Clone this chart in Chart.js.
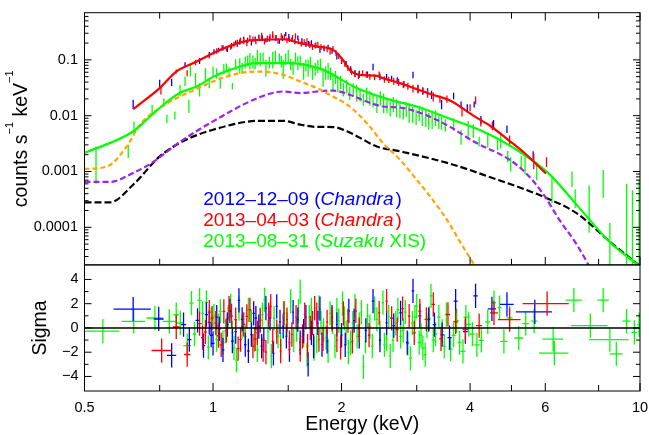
<!DOCTYPE html>
<html>
<head>
<meta charset="utf-8">
<script src="https://cdn.jsdelivr.net/npm/chart.js@4.4.1/dist/chart.umd.min.js"></script>
<style>
  html, body { margin: 0; padding: 0; background: #fff; }
  #spec { display: block; }
</style>
</head>
<body>
<canvas id="spec" width="649" height="435"></canvas>
<script>
const FONT = '"Liberation Sans", Arial, Helvetica, sans-serif';

// axis ticks
const xMajor = [0.5, 1, 2, 4, 6, 10];
const xLabels = ['0.5', '1', '2', '4', '6', '10'];
const xMinor = [0.75, 1.5, 3, 5, 8];
const rateTicks = [1e-4, 1e-3, 0.01, 0.1];
const rateLabels = ['0.0001', '0.001', '0.01', '0.1'];
const sigmaTicks = [-4, -2, 0, 2, 4];
const sigmaLabels = ['−4', '−2', '0', '2', '4'];
const sigmaMinor = [-3, -1, 1, 3];

// 2012-12-09 Chandra spectrum (keV, counts/s/keV, error)
const blueE = [0.65, 0.75, 0.80, 0.86, 0.93, 0.98, 1.03, 1.08, 1.13, 1.18, 1.23, 1.28, 1.33, 1.38, 1.43, 1.48, 1.53, 1.58, 1.65, 1.70,
  1.78, 1.86, 1.95, 2.05, 2.15, 2.37, 2.55, 2.70, 2.94, 3.10, 3.25, 3.43, 3.66, 3.81, 3.94, 4.09, 4.24, 4.54, 4.88, 5.62,
  1.005, 1.055, 1.105, 1.155, 1.205, 1.255, 1.305, 1.355, 1.405, 1.455, 1.505, 1.555, 1.615, 1.675, 1.74, 1.82, 1.90, 2.0, 2.10, 2.20,
  2.30, 2.46, 2.62, 2.80, 3.02, 3.18];
const blueRate = [0.0163, 0.038, 0.040, 0.083, 0.096, 0.125, 0.150, 0.155, 0.205, 0.240, 0.200, 0.260, 0.225, 0.265, 0.215, 0.290, 0.230, 0.250, 0.190, 0.205,
  0.150, 0.171, 0.115, 0.085, 0.058, 0.075, 0.050, 0.043, 0.054, 0.028, 0.024, 0.016, 0.0227, 0.0157, 0.0141, 0.016, 0.0085, 0.0072, 0.0058, 0.0019,
  0.14, 0.165, 0.18, 0.21, 0.225, 0.235, 0.245, 0.24, 0.25, 0.245, 0.26, 0.215, 0.22, 0.195, 0.185, 0.16, 0.145, 0.095, 0.068, 0.056,
  0.055, 0.05, 0.046, 0.037, 0.031, 0.027];
const blueErr = [0.003, 0.006, 0.006, 0.008, 0.012, 0.013, 0.015, 0.016, 0.018, 0.02, 0.02, 0.022, 0.02, 0.022, 0.02, 0.025, 0.022, 0.022, 0.02, 0.02,
  0.016, 0.016, 0.013, 0.01, 0.008, 0.01, 0.006, 0.006, 0.007, 0.004, 0.004, 0.003, 0.003, 0.0022, 0.002, 0.002, 0.0014, 0.0012, 0.0009, 0.0004,
  0.015, 0.018, 0.02, 0.024, 0.025, 0.026, 0.028, 0.027, 0.028, 0.028, 0.03, 0.025, 0.025, 0.022, 0.02, 0.018, 0.016, 0.011, 0.009, 0.008,
  0.007, 0.007, 0.006, 0.005, 0.005, 0.004];

// 2013-04-03 Chandra spectrum
const redE = [0.755, 0.82, 0.87, 0.91, 0.98, 1.05, 1.10, 1.14, 1.18, 1.22, 1.26, 1.30, 1.34, 1.38, 1.42, 1.47, 1.51, 1.56, 1.61, 1.66,
  1.71, 1.76, 1.82, 1.88, 1.94, 2.00, 2.07, 2.15, 2.24, 2.33, 2.45, 2.58, 2.72, 2.86, 3.02, 3.18, 3.40, 3.53, 3.83, 4.00,
  4.12, 4.24, 4.51, 4.95, 5.64, 6.04,
  1.02, 1.075, 1.12, 1.16, 1.20, 1.24, 1.28, 1.32, 1.36, 1.40, 1.445, 1.49, 1.535, 1.585, 1.635, 1.685, 1.735, 1.79, 1.85, 1.91,
  1.97, 2.035, 2.11, 2.19, 2.285, 2.39, 2.52, 2.65, 2.79, 2.94, 3.1, 3.28];
const redRate = [0.028, 0.062, 0.058, 0.090, 0.118, 0.165, 0.170, 0.200, 0.215, 0.250, 0.215, 0.270, 0.240, 0.290, 0.220, 0.260, 0.235, 0.270, 0.195, 0.220,
  0.170, 0.190, 0.165, 0.140, 0.135, 0.100, 0.072, 0.056, 0.058, 0.050, 0.055, 0.044, 0.040, 0.034, 0.030, 0.025, 0.020, 0.020, 0.0117, 0.014,
  0.019, 0.0078, 0.0067, 0.0037, 0.0016, 0.0015,
  0.145, 0.16, 0.19, 0.225, 0.20, 0.235, 0.25, 0.215, 0.26, 0.245, 0.27, 0.225, 0.25, 0.215, 0.21, 0.185, 0.18, 0.17, 0.155, 0.16,
  0.118, 0.085, 0.062, 0.052, 0.055, 0.049, 0.045, 0.042, 0.036, 0.031, 0.028, 0.022];
const redErr = [0.004, 0.005, 0.007, 0.010, 0.012, 0.020, 0.018, 0.030, 0.025, 0.030, 0.025, 0.035, 0.030, 0.035, 0.025, 0.030, 0.025, 0.030, 0.022, 0.025,
  0.020, 0.022, 0.018, 0.016, 0.016, 0.012, 0.009, 0.007, 0.007, 0.006, 0.007, 0.006, 0.006, 0.005, 0.005, 0.004, 0.003, 0.003, 0.002, 0.002,
  0.003, 0.0014, 0.0012, 0.0007, 0.0005, 0.0003,
  0.016, 0.018, 0.022, 0.026, 0.024, 0.028, 0.03, 0.026, 0.03, 0.028, 0.03, 0.026, 0.028, 0.024, 0.024, 0.022, 0.02, 0.02, 0.018, 0.018,
  0.014, 0.01, 0.008, 0.007, 0.007, 0.006, 0.006, 0.006, 0.005, 0.005, 0.004, 0.004];

// 2013-08-31 Suzaku XIS spectrum
const greenE = [0.532, 0.633, 0.653, 0.72, 0.767, 0.78, 0.814, 0.837, 0.86, 0.878, 0.885, 0.91, 0.93, 0.96, 0.98, 1.0, 1.04, 1.075, 1.11, 1.155,
  1.19, 1.22, 1.24, 1.27, 1.29, 1.33, 1.38, 1.43, 1.46, 1.50, 1.54, 1.58, 1.63, 1.67, 1.71, 1.76, 1.81, 1.86, 1.91, 1.96,
  2.02, 2.09, 2.17, 2.25, 2.33, 2.42, 2.51, 2.60, 2.69, 2.79, 2.88, 2.99, 3.09, 3.20, 3.32, 3.43, 3.50, 3.66, 3.81, 3.96,
  4.07, 4.20, 4.40, 4.64, 4.72, 4.90, 4.98, 5.27, 5.38, 5.73, 6.22, 6.93, 7.05, 7.6, 8.2, 8.5, 9.3, 9.6, 9.95,
  1.02, 1.06, 1.09, 1.13, 1.17, 1.205, 1.255, 1.31, 1.355, 1.40, 1.445, 1.48, 1.52, 1.56, 1.60, 1.65, 1.69, 1.735, 1.785, 1.835,
  1.885, 1.935, 1.99, 2.055, 2.13, 2.21, 2.29, 2.37, 2.465, 2.555, 2.645, 2.74, 2.835, 2.935, 3.04, 3.15, 3.26, 3.38];
const greenRate = [0.0017, 0.00237, 0.0062, 0.013, 0.0176, 0.0089, 0.0102, 0.029, 0.042, 0.0152, 0.066, 0.045, 0.030, 0.056, 0.039, 0.063, 0.040, 0.074, 0.034, 0.082,
  0.093, 0.10, 0.095, 0.115, 0.105, 0.075, 0.105, 0.108, 0.073, 0.12, 0.074, 0.09, 0.066, 0.075, 0.06, 0.079, 0.052, 0.066, 0.043, 0.038,
  0.03, 0.026, 0.027, 0.02, 0.0215, 0.0166, 0.018, 0.0138, 0.0145, 0.0115, 0.012, 0.0098, 0.0105, 0.0084, 0.0095, 0.0076, 0.0069, 0.0072, 0.0043, 0.0061,
  0.0055, 0.0035, 0.0038, 0.0032, 0.0036, 0.0019, 0.0014, 0.0015, 0.0014, 0.0011, 0.00055, 0.00076, 0.00035, 0.00032, 0.0007, 0.00007, 0.0003, 0.00023, 0.00036,
  0.058, 0.070, 0.062, 0.085, 0.072, 0.098, 0.088, 0.11, 0.092, 0.118, 0.095, 0.105, 0.085, 0.11, 0.098, 0.082, 0.092, 0.07, 0.085, 0.06,
  0.058, 0.05, 0.041, 0.034, 0.03, 0.024, 0.025, 0.019, 0.021, 0.016, 0.0165, 0.013, 0.0135, 0.011, 0.0115, 0.0092, 0.0088, 0.0082];
const greenErr = [0.0011, 0.00063, 0.0017, 0.0027, 0.003, 0.0015, 0.0017, 0.007, 0.0085, 0.004, 0.0155, 0.013, 0.008, 0.015, 0.008, 0.013, 0.0095, 0.0125, 0.0045, 0.025,
  0.022, 0.033, 0.025, 0.035, 0.028, 0.025, 0.035, 0.022, 0.027, 0.032, 0.02, 0.025, 0.022, 0.025, 0.016, 0.021, 0.019, 0.022, 0.0145, 0.012,
  0.008, 0.007, 0.009, 0.005, 0.0065, 0.0054, 0.007, 0.0041, 0.005, 0.003, 0.0046, 0.003, 0.004, 0.0028, 0.003, 0.002, 0.0017, 0.0018, 0.0013, 0.0019,
  0.0015, 0.0007, 0.0011, 0.0008, 0.001, 0.00045, 0.0004, 0.0004, 0.0005, 0.0004, 0.00028, 0.00024, 0.00013, 0.00024, 0.00036, 0.00005, 0.0003, 0.00023, 0.00036,
  0.012, 0.014, 0.012, 0.018, 0.016, 0.022, 0.02, 0.025, 0.022, 0.028, 0.022, 0.025, 0.02, 0.025, 0.022, 0.02, 0.022, 0.018, 0.02, 0.016,
  0.015, 0.013, 0.011, 0.009, 0.008, 0.006, 0.007, 0.005, 0.006, 0.005, 0.005, 0.004, 0.004, 0.0035, 0.0035, 0.003, 0.003, 0.0025];

// model curves
const redModelE = [0.65, 0.75, 0.82, 0.916, 1.0, 1.096, 1.2, 1.29, 1.46, 1.6, 1.75, 1.91, 2.015, 2.09, 2.21, 2.42, 2.5, 2.74, 3.0, 3.27, 3.59, 4.09, 4.48, 4.91, 5.38, 6.02];
const redModel = [0.0131, 0.0312, 0.0618, 0.0933, 0.132, 0.178, 0.219, 0.228, 0.234, 0.199, 0.173, 0.151, 0.1, 0.066, 0.054, 0.0518, 0.0471, 0.0383, 0.0299, 0.0237, 0.0187, 0.0098, 0.0064, 0.0037, 0.0021, 0.00092];
const greenModelE = [0.5, 0.65, 0.699, 0.765, 0.837, 0.916, 1.0, 1.096, 1.265, 1.514, 1.81, 2.17, 2.6, 3.0, 3.59, 4.29, 5.14, 6.15, 7.1, 8.53, 9.9];
const greenModel = [0.00214, 0.0052, 0.00845, 0.0157, 0.0257, 0.0333, 0.0496, 0.0662, 0.0873, 0.0873, 0.0662, 0.0312, 0.0192, 0.0146, 0.0088, 0.0052, 0.00245, 0.00088, 0.000255, 0.000053, 0.000021];
const blackE = [0.5, 0.574, 0.65, 0.75, 0.837, 1.0, 1.29, 1.46, 1.6, 1.75, 1.91, 2.09, 2.21, 2.42, 2.74, 3.59, 4.48, 5.9, 7.1, 8.53, 9.9];
const blackModel = [0.00028, 0.00028, 0.00058, 0.00186, 0.00327, 0.0056, 0.0081, 0.0081, 0.0069, 0.0063, 0.00625, 0.005, 0.004, 0.0028, 0.0023, 0.00138, 0.00078, 0.00036, 0.000179, 0.000054, 0.0000215];
const orangeE = [0.5, 0.565, 0.628, 0.674, 0.75, 0.837, 0.916, 1.0, 1.156, 1.29, 1.46, 1.6, 1.75, 1.91, 2.09, 2.29, 2.5, 2.74, 3.0, 3.27, 3.59, 3.73, 4.13];
const orangeModel = [0.00111, 0.00123, 0.00281, 0.0069, 0.0137, 0.022, 0.030, 0.041, 0.0578, 0.0618, 0.054, 0.041, 0.0312, 0.022, 0.0146, 0.0074, 0.00324, 0.00163, 0.00071, 0.00031, 0.000112, 0.000067, 0.000019];
const purpleE = [0.5, 0.574, 0.65, 0.711, 0.75, 0.837, 1.0, 1.29, 1.46, 1.6, 1.75, 1.91, 2.09, 2.29, 2.5, 2.74, 2.99, 3.27, 3.59, 4.09, 4.91, 5.38, 5.9, 6.48, 7.1, 7.64];
const purpleModel = [0.00065, 0.00065, 0.00094, 0.00135, 0.0018, 0.0034, 0.0079, 0.0216, 0.0271, 0.0254, 0.0271, 0.0282, 0.0237, 0.0179, 0.0146, 0.014, 0.0119, 0.0091, 0.0063, 0.00341, 0.00169, 0.00097, 0.00042, 0.000135, 0.00005, 0.000019];

// residuals (keV, bin half width, sigma)
const blueResE = [0.65, 0.746, 0.80, 0.853, 0.88, 0.92, 0.95, 0.98, 1.0, 1.035, 1.08, 1.11, 1.15, 1.19, 1.23, 1.26, 1.30, 1.33, 1.41, 1.46,
  1.51, 1.58, 1.63, 1.67, 1.72, 1.76, 1.80, 1.90, 2.00, 2.08, 2.20, 2.37, 2.55, 2.75, 2.94, 3.20, 3.30, 3.44, 3.70, 3.90,
  4.12, 4.50, 4.88, 5.67,
  0.965, 0.99, 1.02, 1.055, 1.095, 1.13, 1.17, 1.21, 1.245, 1.28, 1.315, 1.36, 1.385, 1.435, 1.485, 1.54, 1.60, 1.65, 1.70, 1.78,
  1.85, 1.95, 2.04, 2.14, 2.28, 2.46, 2.65, 2.85, 3.05, 3.58];
const blueResW = [0.065, 0.02, 0.02, 0.012, 0.01, 0.01, 0.008, 0.008, 0.008, 0.008, 0.008, 0.008, 0.008, 0.008, 0.008, 0.008, 0.008, 0.008, 0.008, 0.008,
  0.008, 0.008, 0.008, 0.008, 0.008, 0.008, 0.008, 0.01, 0.01, 0.012, 0.012, 0.015, 0.015, 0.02, 0.02, 0.025, 0.03, 0.03, 0.04, 0.05,
  0.05, 0.1, 0.18, 0.55,
  0.008, 0.008, 0.008, 0.008, 0.008, 0.008, 0.008, 0.008, 0.008, 0.008, 0.008, 0.008, 0.008, 0.008, 0.008, 0.008, 0.008, 0.008, 0.008, 0.008,
  0.01, 0.01, 0.012, 0.012, 0.015, 0.015, 0.02, 0.02, 0.025, 0.04];
const blueSig = [1.56, 0.74, -2.27, 0.27, -0.96, 0.63, -1.45, 0.46, -1.28, -0.08, 0.27, -1.09, 2.27, -1.37, -0.55, 0.82, -1.5, 1.64, 1.78, 0.14,
  -1.78, 0.68, -0.27, -3.0, -1.5, 0.41, -1.37, 0.9, -0.6, 1.4, -0.69, 2.22, 0.42, 1.25, 3.06, 0.69, 0.28, -0.56, 2.22, -0.3,
  2.64, 1.58, 1.94, 1.33,
  1.1, -0.6, 0.9, -1.8, 1.4, -0.3, 0.7, -1.9, 1.2, 0.1, -1.0, 0.8, -2.1, 0.5, -0.7, 1.3, -1.2, 0.9, -0.4, 1.6,
  -1.1, 0.3, -1.4, 0.6, -0.2, -1.0, 0.2, -1.2, 1.0, -0.8];

const redResE = [0.758, 0.82, 0.87, 0.93, 0.96, 0.995, 1.03, 1.06, 1.09, 1.13, 1.16, 1.20, 1.24, 1.27, 1.31, 1.35, 1.38, 1.44, 1.49, 1.53,
  1.60, 1.64, 1.69, 1.73, 1.77, 1.85, 1.95, 2.02, 2.12, 2.20, 2.45, 2.55, 2.70, 2.88, 3.05, 3.28, 3.55, 3.90, 4.20, 4.55,
  4.95, 6.06,
  0.945, 0.98, 1.015, 1.045, 1.075, 1.105, 1.145, 1.18, 1.22, 1.255, 1.29, 1.33, 1.365, 1.41, 1.465, 1.51, 1.565, 1.62, 1.665, 1.71,
  1.75, 1.81, 1.90, 1.99, 2.07, 2.16, 2.32, 2.62, 2.78, 2.96, 3.16, 3.42, 3.70];
const redResW = [0.04, 0.015, 0.015, 0.01, 0.008, 0.008, 0.008, 0.008, 0.008, 0.008, 0.008, 0.008, 0.008, 0.008, 0.008, 0.008, 0.008, 0.008, 0.008, 0.008,
  0.008, 0.008, 0.008, 0.008, 0.008, 0.01, 0.01, 0.01, 0.012, 0.012, 0.015, 0.015, 0.02, 0.02, 0.025, 0.03, 0.04, 0.06, 0.07, 0.1,
  0.3, 0.75,
  0.008, 0.008, 0.008, 0.008, 0.008, 0.008, 0.008, 0.008, 0.008, 0.008, 0.008, 0.008, 0.008, 0.008, 0.008, 0.008, 0.008, 0.008, 0.008, 0.008,
  0.008, 0.01, 0.01, 0.01, 0.012, 0.012, 0.015, 0.02, 0.02, 0.025, 0.03, 0.035, 0.05];
const redSig = [-1.86, 0.08, -2.19, 0.36, -0.33, 0.82, -0.63, 1.37, 1.64, 0.68, -0.96, 0.96, -1.5, -0.41, -1.78, 1.09, -1.09, -1.91, 0.68, -0.55,
  -1.78, 1.09, 0.0, 1.64, -0.96, 0.5, -1.0, 1.2, -1.11, -0.14, 1.25, 2.22, -0.14, 0.97, 1.39, 1.94, 1.11, -0.14, 0.19, 1.25,
  0.69, 2.0,
  -0.8, 1.3, 0.4, -1.4, -0.2, 1.0, -1.7, 0.3, 1.5, -0.9, 0.6, -2.0, 1.8, -0.3, 1.2, -1.2, 0.9, -0.7, -1.5, 0.4,
  1.1, -0.9, 0.7, -1.6, 0.6, 1.4, -0.6, 0.8, 1.6, -0.4, 0.7, -0.9, 0.5];

const greenResE = [0.552, 0.652, 0.731, 0.79, 0.82, 0.838, 0.87, 0.89, 0.93, 0.965, 0.99, 1.02, 1.04, 1.07, 1.10, 1.12, 1.135, 1.17, 1.21, 1.25,
  1.29, 1.32, 1.37, 1.42, 1.47, 1.52, 1.57, 1.60, 1.66, 1.70, 1.75, 1.79, 1.84, 1.88, 1.93, 1.97, 2.01, 2.05, 2.10, 2.15,
  2.20, 2.25, 2.30, 2.36, 2.42, 2.50, 2.55, 2.60, 2.68, 2.75, 2.82, 2.90, 2.97, 3.04, 3.10, 3.17, 3.24, 3.32, 3.44, 3.52,
  3.60, 3.72, 3.85, 3.97, 4.15, 4.25, 4.40, 4.55, 4.69, 4.80, 4.95, 5.20, 5.40, 5.65, 6.30, 6.26, 7.00, 7.65, 8.20, 8.50,
  8.80, 9.30, 9.70, 9.95,
  0.905, 0.945, 0.975, 1.005, 1.03, 1.055, 1.085, 1.11, 1.15, 1.19, 1.23, 1.27, 1.305, 1.345, 1.39, 1.44, 1.49, 1.545, 1.585, 1.63,
  1.68, 1.725, 1.77, 1.815, 1.86, 1.905, 1.95, 1.99, 2.03, 2.075, 2.125, 2.175, 2.225, 2.275, 2.33, 2.39, 2.46, 2.52, 2.58, 2.64,
  2.71, 2.79, 2.86, 2.93, 3.00, 3.07, 3.14, 3.21, 3.28, 3.38, 3.48, 3.66, 3.78, 3.91, 4.05];
const greenResW = [0.052, 0.041, 0.032, 0.028, 0.012, 0.018, 0.018, 0.01, 0.01, 0.008, 0.008, 0.008, 0.008, 0.008, 0.008, 0.008, 0.008, 0.008, 0.008, 0.008,
  0.008, 0.008, 0.008, 0.008, 0.008, 0.008, 0.008, 0.008, 0.008, 0.008, 0.008, 0.008, 0.01, 0.01, 0.01, 0.01, 0.01, 0.01, 0.012, 0.012,
  0.012, 0.012, 0.012, 0.015, 0.015, 0.015, 0.015, 0.015, 0.02, 0.02, 0.02, 0.02, 0.02, 0.025, 0.025, 0.025, 0.025, 0.03, 0.03, 0.03,
  0.04, 0.04, 0.05, 0.05, 0.06, 0.06, 0.06, 0.05, 0.05, 0.1, 0.08, 0.12, 0.1, 0.1, 0.5, 0.35, 0.3, 0.75, 0.25, 0.9,
  0.3, 0.2, 0.15, 0.1,
  0.008, 0.008, 0.008, 0.008, 0.008, 0.008, 0.008, 0.008, 0.008, 0.008, 0.008, 0.008, 0.008, 0.008, 0.008, 0.008, 0.008, 0.008, 0.008, 0.008,
  0.008, 0.008, 0.008, 0.008, 0.01, 0.01, 0.01, 0.01, 0.01, 0.012, 0.012, 0.012, 0.012, 0.012, 0.015, 0.015, 0.015, 0.015, 0.015, 0.02,
  0.02, 0.02, 0.02, 0.02, 0.025, 0.025, 0.025, 0.025, 0.03, 0.03, 0.03, 0.04, 0.04, 0.05, 0.05];
const greenSig = [-0.27, 0.55, 0.82, 0.55, 1.09, 0.41, -1.45, 2.05, 2.27, 2.1, 0.68, -0.96, 1.37, -0.27, 1.83, -1.64, -2.65, 0.14, 1.5, -0.96,
  0.68, 2.32, -2.32, -0.68, 1.23, 2.19, -0.14, 3.0, -2.19, 1.5, -1.09, 0.41, -0.8, 1.2, -1.5, 0.6, 2.0, -0.4, -1.2, 1.8,
  0.3, -3.2, 1.0, -1.5, 0.7, 2.08, -0.9, -2.3, 0.4, -0.69, 1.3, -2.5, 0.9, -1.2, -1.67, 0.2, 2.64, -0.5, -0.28, 1.1,
  -1.75, 0.6, -1.94, 0.3, -1.39, -1.03, 0.5, 2.08, 1.67, -1.1, 0.83, -0.83, 0.36, 0.56, -2.08, -0.92, 2.3, 0.19, 2.3, -0.97,
  -2.14, 0.56, -0.36, 0.28,
  -0.5, 1.2, -1.6, 1.0, 0.2, -1.2, 0.9, -0.4, 1.6, -0.7, 0.5, -1.8, 1.1, -0.3, 0.8, -1.4, 0.3, -1.0, 1.4, -0.6,
  0.9, -1.7, 1.7, -0.2, -1.9, 0.5, 1.5, -1.0, 0.8, -2.0, 0.4, -0.7, 1.3, -1.1, 0.1, 1.6, -0.4, -1.4, 0.9, -1.0,
  1.5, -0.2, -1.3, 0.4, 1.8, -0.6, -2.2, 0.8, -1.0, 0.9, -1.5, -0.6, -1.2, 0.9, -0.5];

const legendLines = [
  ['#0000ff', [['2012–12–09 (', false], ['Chandra', true], [')', false]]],
  ['#ff0000', [['2013–04–03 (', false], ['Chandra', true], [')', false]]],
  ['#00ff00', [['2013–08–31 (', false], ['Suzaku', true], [' XIS)', false]]]
];

function errorBars(E, v, err) {
  const pts = [];
  E.forEach((e, i) => {
    pts.push({x: e, y: Math.max(v[i] - err[i], 1e-7)}, {x: e, y: v[i] + err[i]}, {x: NaN, y: NaN});
  });
  return pts;
}

function crosses(E, hw, sig) {
  const pts = [];
  E.forEach((e, i) => {
    pts.push({x: e, y: sig[i] - 1}, {x: e, y: sig[i] + 1}, {x: NaN, y: NaN},
      {x: e - hw[i], y: sig[i]}, {x: e + hw[i], y: sig[i]}, {x: NaN, y: NaN});
  });
  return pts;
}

const curve = (E, v) => E.map((e, i) => ({x: e, y: v[i]}));

const model = (E, v, color, dash) => ({
  data: curve(E, v), yAxisID: 'y', borderColor: color, borderWidth: 2.2,
  borderDash: dash, cubicInterpolationMode: 'monotone'
});
const bars = (data, color, axis) => ({data, yAxisID: axis, borderColor: color, borderWidth: 1.3});

// inward ticks, frames, labels and the legend text
const panels = {
  id: 'panels',
  beforeDatasetDraw(chart, args) {
    const s = chart.scales[args.meta.yAxisID], a = chart.chartArea, ctx = chart.ctx;
    ctx.save();
    ctx.beginPath();
    ctx.rect(a.left, s.top, a.right - a.left, s.bottom - s.top);
    ctx.clip();
  },
  afterDatasetDraw(chart) {
    chart.ctx.restore();
  },
  afterDraw(chart) {
    const {ctx, chartArea: a, scales: {x, y, ySig}} = chart;
    const line = (x0, y0, x1, y1) => { ctx.beginPath(); ctx.moveTo(x0, y0); ctx.lineTo(x1, y1); ctx.stroke(); };
    ctx.save();
    ctx.strokeStyle = '#000';
    ctx.fillStyle = '#000';
    ctx.lineWidth = 1;
    ctx.strokeRect(a.left, y.top, a.right - a.left, y.bottom - y.top);
    ctx.strokeRect(a.left, ySig.top, a.right - a.left, ySig.bottom - ySig.top);

    [[xMajor, 8], [xMinor, 6]].forEach(([vals, len]) => vals.forEach(v => {
      const px = x.getPixelForValue(v);
      line(px, y.top, px, y.top + len);
      line(px, y.bottom, px, y.bottom - len);
      line(px, ySig.bottom, px, ySig.bottom - len);
    }));

    for (let d = -5; d <= 0; d++) {
      for (let m = 1; m <= 9; m++) {
        const v = m * Math.pow(10, d);
        if (v < y.min || v > y.max) continue;
        const py = y.getPixelForValue(v), len = m === 1 ? 7 : 4;
        line(a.left, py, a.left + len, py);
        line(a.right, py, a.right - len, py);
      }
    }
    [[sigmaTicks, 7], [sigmaMinor, 4]].forEach(([vals, len]) => vals.forEach(v => {
      const py = ySig.getPixelForValue(v);
      line(a.left, py, a.left + len, py);
      line(a.right, py, a.right - len, py);
    }));

    ctx.font = '14.5px ' + FONT;
    ctx.textAlign = 'right';
    ctx.textBaseline = 'middle';
    rateTicks.forEach((v, i) => ctx.fillText(rateLabels[i], a.left - 6.5, y.getPixelForValue(v)));
    sigmaTicks.forEach((v, i) => ctx.fillText(sigmaLabels[i], a.left - 6, ySig.getPixelForValue(v)));
    ctx.textAlign = 'center';
    ctx.textBaseline = 'alphabetic';
    xMajor.forEach((v, i) => ctx.fillText(xLabels[i], x.getPixelForValue(v), ySig.bottom + 21));

    ctx.font = '19.5px ' + FONT;
    ctx.fillText('Energy (keV)', (a.left + a.right) / 2, ySig.bottom + 39);

    // rotated titles
    ctx.save();
    ctx.translate(45.7, (ySig.top + ySig.bottom) / 2);
    ctx.rotate(-Math.PI / 2);
    ctx.fillText('Sigma', 0, 0);
    ctx.restore();

    const parts = [['counts s', false], ['−1', true], [' keV', false], ['−1', true]];
    const big = '19.5px ' + FONT, small = '11px ' + FONT;
    let total = 0;
    parts.forEach(([t, sup]) => { ctx.font = sup ? small : big; total += ctx.measureText(t).width; });
    ctx.save();
    ctx.translate(26.5, (y.top + y.bottom) / 2);
    ctx.rotate(-Math.PI / 2);
    ctx.textAlign = 'left';
    let cx = -total / 2;
    parts.forEach(([t, sup]) => {
      ctx.font = sup ? small : big;
      ctx.fillText(t, cx, sup ? -14 : 0);
      cx += ctx.measureText(t).width;
    });
    ctx.restore();

    // legend
    ctx.textAlign = 'left';
    legendLines.forEach(([color, segs], i) => {
      ctx.fillStyle = color;
      let lx = a.left + 118.8;
      const ly = y.top + 192.3 + i * 20.8;
      segs.forEach(([t, it]) => {
        ctx.font = (it ? 'italic ' : '') + '19px ' + FONT;
        if (t === ')') lx += 2;
        ctx.fillText(t, lx, ly);
        lx += ctx.measureText(t).width;
      });
    });
    ctx.restore();
  }
};

new Chart(document.getElementById('spec'), {
  type: 'line',
  data: {
    datasets: [
      model(redModelE, redModel, '#ff0000', []),
      model(greenModelE, greenModel, '#00ff00', []),
      model(orangeE, orangeModel, '#ffa500', [5, 3]),
      model(purpleE, purpleModel, '#a020f0', [6, 3]),
      model(blackE, blackModel, '#000000', [7, 3]),
      bars(errorBars(redE, redRate, redErr), '#ff0000', 'y'),
      bars(errorBars(blueE, blueRate, blueErr), '#0000ff', 'y'),
      bars(errorBars(greenE, greenRate, greenErr), '#00ff00', 'y'),
      {data: [{x: 0.5, y: 0}, {x: 10, y: 0}], yAxisID: 'ySig', borderColor: '#000', borderWidth: 1.5},
      bars(crosses(redResE, redResW, redSig), '#ff0000', 'ySig'),
      bars(crosses(blueResE, blueResW, blueSig), '#0000ff', 'ySig'),
      bars(crosses(greenResE, greenResW, greenSig), '#00ff00', 'ySig')
    ]
  },
  options: {
    responsive: false,
    animation: false,
    events: [],
    layout: {padding: {top: 12.7, right: 9, left: 0, bottom: 0}},
    elements: {point: {radius: 0}, line: {tension: 0, borderCapStyle: 'butt'}},
    plugins: {legend: {display: false}, tooltip: {enabled: false}},
    scales: {
      x: {
        type: 'logarithmic', min: 0.5, max: 10,
        ticks: {display: false}, grid: {display: false}, border: {display: false},
        afterFit: s => { s.height = 44; }
      },
      y: {
        type: 'logarithmic', min: 2.12e-5, max: 0.70, position: 'left',
        stack: 'panels', stackWeight: 2, weight: 1,
        ticks: {display: false}, grid: {display: false}, border: {display: false},
        afterFit: s => { s.width = 84.5; }
      },
      ySig: {
        type: 'linear', axis: 'y', min: -5.2, max: 5.2, position: 'left',
        stack: 'panels', stackWeight: 1, weight: 0,
        ticks: {display: false}, grid: {display: false}, border: {display: false},
        afterFit: s => { s.width = 84.5; }
      }
    }
  },
  plugins: [panels]
});
</script>
</body>
</html>
